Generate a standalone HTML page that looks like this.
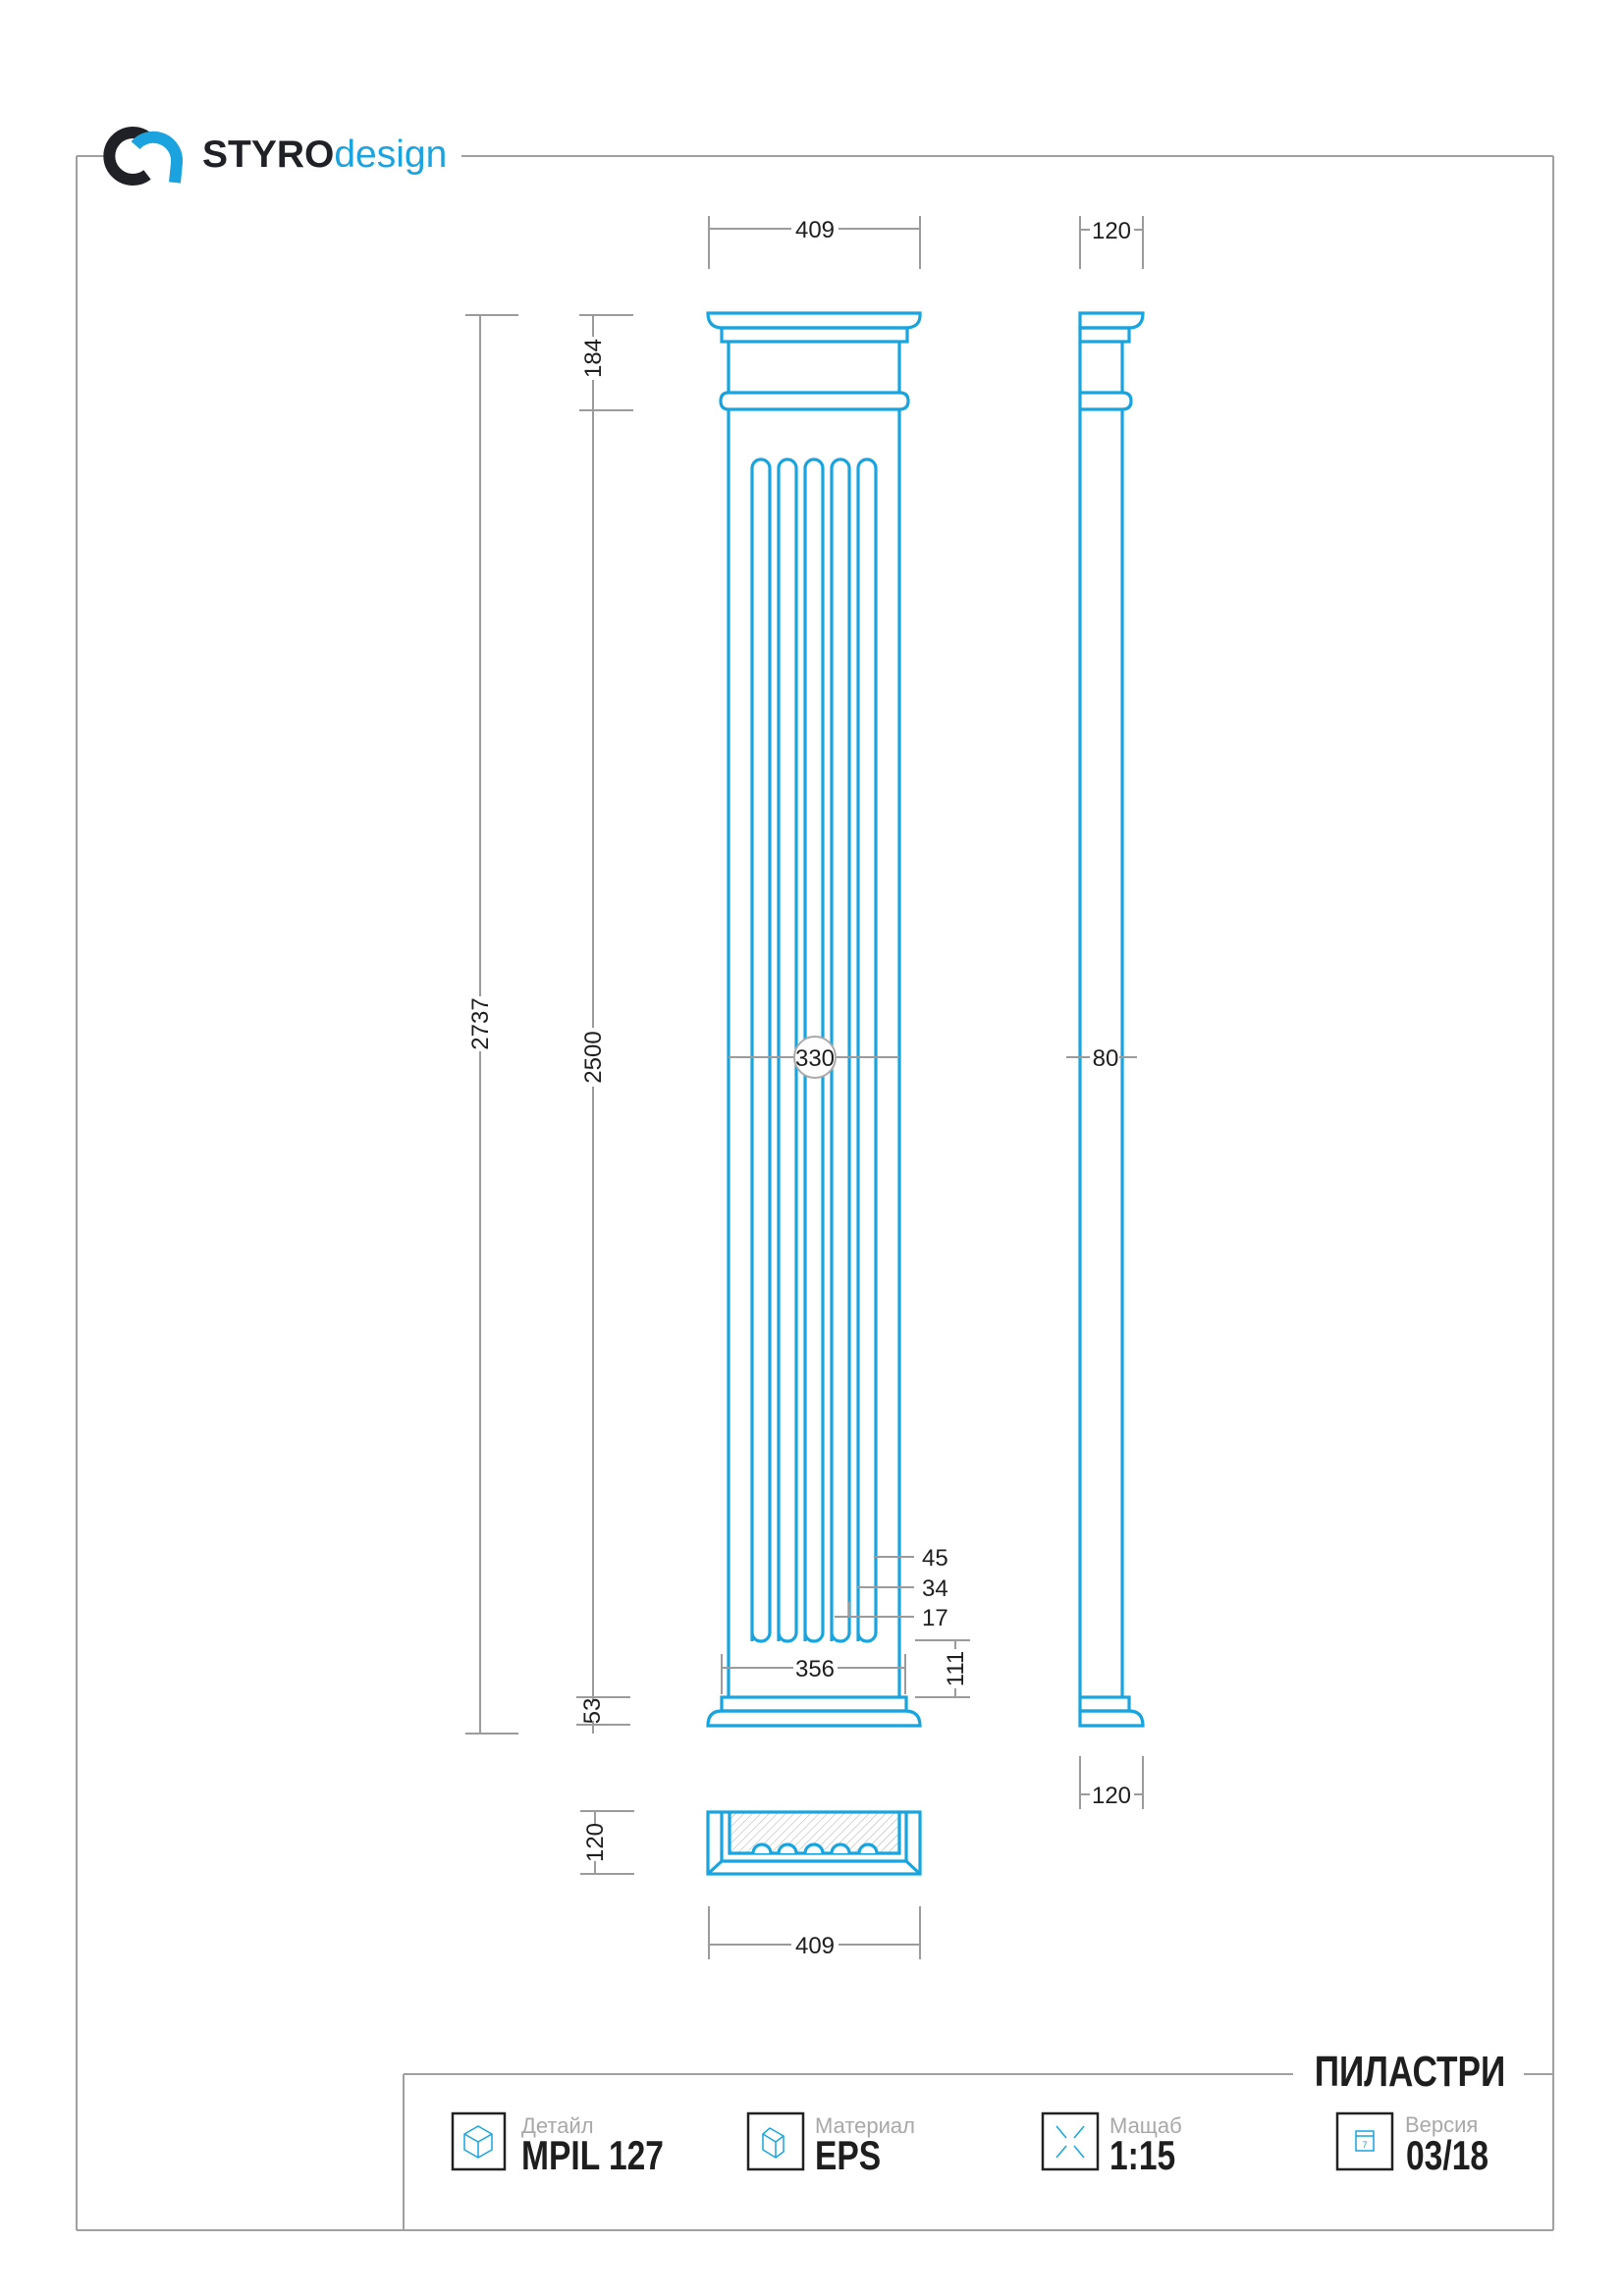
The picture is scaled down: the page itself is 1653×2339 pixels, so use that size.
<!DOCTYPE html>
<html><head><meta charset="utf-8"><style>
html,body{margin:0;padding:0;background:#fff}
svg{display:block}
.b{fill:none;stroke:#18a4df;stroke-width:3.2}
.g{fill:none;stroke:#9b9b9b;stroke-width:2}
.t{font-family:"Liberation Sans",sans-serif;font-size:24px;fill:#1e1e1e}
</style></head><body>
<svg width="1653" height="2339" viewBox="0 0 1653 2339" xmlns="http://www.w3.org/2000/svg">
<!-- frame -->
<g stroke="#a0a0a0" stroke-width="2" fill="none">
<line x1="78" y1="159" x2="106" y2="159"/>
<line x1="470" y1="159" x2="1582" y2="159"/>
<line x1="78" y1="159" x2="78" y2="2272"/>
<line x1="1582" y1="159" x2="1582" y2="2272"/>
<line x1="78" y1="2272" x2="1582" y2="2272"/>
<line x1="411" y1="2113" x2="1317" y2="2113"/>
<line x1="1552" y1="2113" x2="1582" y2="2113"/>
<line x1="411" y1="2113" x2="411" y2="2272"/>
</g>
<!-- logo -->
<path d="M150 140 A24 24 0 1 0 150 178" fill="none" stroke="#1f2126" stroke-width="12"/>
<path d="M138 148 A24 24 0 0 1 180 166 L178 186" fill="none" stroke="#1aa3de" stroke-width="12"/>
<text x="206" y="170" font-family="Liberation Sans,sans-serif" font-size="39" font-weight="bold" fill="#1f2126">STYRO<tspan font-weight="normal" fill="#1aa3de">design</tspan></text>

<!-- top dims -->
<g class="g">
<line x1="722" y1="220" x2="722" y2="274"/><line x1="937" y1="220" x2="937" y2="274"/>
<line x1="722" y1="233" x2="806" y2="233"/><line x1="854" y1="233" x2="937" y2="233"/>
<line x1="1100" y1="220" x2="1100" y2="274"/><line x1="1164" y1="220" x2="1164" y2="274"/>
<line x1="1100" y1="234" x2="1110" y2="234"/><line x1="1155" y1="234" x2="1164" y2="234"/>
</g>
<text class="t" x="830" y="242" text-anchor="middle">409</text>
<text class="t" x="1132" y="243" text-anchor="middle">120</text>

<!-- front elevation -->
<g class="b">
<path d="M721 319 L937 319 Q938 334 922 334 L736 334 Q721 334 721 319 Z"/>
<rect x="735" y="334" width="189" height="14"/>
<line x1="742" y1="348" x2="742" y2="400"/><line x1="916" y1="348" x2="916" y2="400"/>
<path d="M742 400 L916 400 Q925 400 925 408.5 Q925 417 916 417 L742 417 Q734 417 734 408.5 Q734 400 742 400 Z"/>
<line x1="742" y1="417" x2="742" y2="1729"/><line x1="916" y1="417" x2="916" y2="1729"/>
<rect x="735" y="1729" width="188" height="14"/>
<path d="M735 1743 L922 1743 Q937 1743 937 1758 L721 1758 Q721 1743 735 1743 Z"/>
<path d="M766 1672 L766 477 A9 9 0 0 1 784 477 L784 1663 A9 9 0 0 1 766 1663"/>
<path d="M793 1672 L793 477 A9 9 0 0 1 811 477 L811 1663 A9 9 0 0 1 793 1663"/>
<path d="M820 1672 L820 477 A9 9 0 0 1 838 477 L838 1663 A9 9 0 0 1 820 1663"/>
<path d="M847 1672 L847 477 A9 9 0 0 1 865 477 L865 1663 A9 9 0 0 1 847 1663"/>
<path d="M874 1672 L874 477 A9 9 0 0 1 892 477 L892 1663 A9 9 0 0 1 874 1663"/>
</g>
<!-- side elevation -->
<g class="b">
<path d="M1100 319 L1164 319 Q1164 334 1150 334 L1100 334 Z"/>
<rect x="1100" y="334" width="50" height="14"/>
<line x1="1100" y1="348" x2="1100" y2="1729"/><line x1="1143" y1="348" x2="1143" y2="400"/>
<path d="M1100 400 L1143 400 Q1152 400 1152 408.5 Q1152 417 1143 417 L1100 417"/>
<line x1="1143" y1="417" x2="1143" y2="1729"/>
<rect x="1100" y="1729" width="50" height="14"/>
<path d="M1100 1743 L1150 1743 Q1164 1743 1164 1758 L1100 1758 Z"/>
</g>
<!-- plan -->
<defs><pattern id="h" width="6" height="6" patternUnits="userSpaceOnUse" patternTransform="rotate(45)"><line x1="0" y1="0" x2="0" y2="6" stroke="#aaa" stroke-width="1"/></pattern></defs>
<rect x="743" y="1846" width="173" height="42" fill="url(#h)"/>
<g class="b">
<rect x="721" y="1846" width="216" height="63"/>
<path d="M735 1846 L735 1896 L923 1896 L923 1846"/>
<path d="M743 1846 L743 1888 L916 1888 L916 1846"/>
<line x1="721" y1="1909" x2="735" y2="1896"/><line x1="937" y1="1909" x2="923" y2="1896"/>
<path d="M767 1888 A9 9 0 0 1 785 1888 M793 1888 A9 9 0 0 1 811 1888 M820 1888 A9 9 0 0 1 838 1888 M847 1888 A9 9 0 0 1 865 1888 M875 1888 A9 9 0 0 1 893 1888" fill="#fff"/>
</g>

<!-- dims -->
<g class="g">
<line x1="489" y1="321" x2="489" y2="1766"/>
<line x1="474" y1="321" x2="528" y2="321"/><line x1="474" y1="1766" x2="528" y2="1766"/>
<line x1="604" y1="321" x2="604" y2="1766"/>
<line x1="590" y1="321" x2="645" y2="321"/><line x1="590" y1="418" x2="645" y2="418"/>
<line x1="587" y1="1729" x2="642" y2="1729"/><line x1="587" y1="1757" x2="642" y2="1757"/>
<line x1="606" y1="1845" x2="606" y2="1909"/>
<line x1="591" y1="1845" x2="646" y2="1845"/><line x1="591" y1="1909" x2="646" y2="1909"/>
<line x1="742" y1="1077" x2="916" y2="1077"/>
<line x1="1086" y1="1077" x2="1110" y2="1077"/><line x1="1140" y1="1077" x2="1158" y2="1077"/>
<line x1="735" y1="1685" x2="735" y2="1726"/><line x1="922" y1="1685" x2="922" y2="1726"/>
<line x1="735" y1="1699" x2="808" y2="1699"/><line x1="853" y1="1699" x2="922" y2="1699"/>
<line x1="932" y1="1671" x2="988" y2="1671"/><line x1="932" y1="1729" x2="988" y2="1729"/>
<line x1="973" y1="1671" x2="973" y2="1729"/>
<line x1="890" y1="1586" x2="931" y2="1586"/>
<line x1="873" y1="1617" x2="931" y2="1617"/>
<line x1="850" y1="1647" x2="931" y2="1647"/>
<line x1="865" y1="1632" x2="865" y2="1647"/>
<line x1="1100" y1="1789" x2="1100" y2="1843"/><line x1="1164" y1="1789" x2="1164" y2="1843"/>
<line x1="1100" y1="1828" x2="1110" y2="1828"/><line x1="1155" y1="1828" x2="1164" y2="1828"/>
<line x1="722" y1="1942" x2="722" y2="1996"/><line x1="937" y1="1942" x2="937" y2="1996"/>
<line x1="722" y1="1981" x2="806" y2="1981"/><line x1="854" y1="1981" x2="937" y2="1981"/>
</g>
<rect x="476" y="1015" width="26" height="56" fill="#fff"/>
<text class="t" transform="translate(497 1043) rotate(-90)" text-anchor="middle">2737</text>
<rect x="591" y="1047" width="26" height="60" fill="#fff"/>
<text class="t" transform="translate(612 1077) rotate(-90)" text-anchor="middle">2500</text>
<rect x="591" y="343" width="26" height="44" fill="#fff"/>
<text class="t" transform="translate(612 365) rotate(-90)" text-anchor="middle">184</text>
<rect x="591" y="1733" width="24" height="20" fill="#fff"/>
<text class="t" transform="translate(611 1743) rotate(-90)" text-anchor="middle">53</text>
<rect x="593" y="1858" width="26" height="38" fill="#fff"/>
<text class="t" transform="translate(614 1877) rotate(-90)" text-anchor="middle">120</text>
<rect x="960" y="1680" width="26" height="40" fill="#fff"/>
<text class="t" transform="translate(981 1700) rotate(-90)" text-anchor="middle">111</text>
<circle cx="830" cy="1077" r="21" fill="#fff" stroke="#aaa" stroke-width="2"/>
<text class="t" x="830" y="1086" text-anchor="middle">330</text>
<text class="t" x="1126" y="1086" text-anchor="middle">80</text>
<text class="t" x="830" y="1708" text-anchor="middle">356</text>
<text class="t" x="939" y="1595">45</text>
<text class="t" x="939" y="1626">34</text>
<text class="t" x="939" y="1656">17</text>
<text class="t" x="1132" y="1837" text-anchor="middle">120</text>
<text class="t" x="830" y="1990" text-anchor="middle">409</text>

<!-- title block -->
<text x="1436" y="2125" text-anchor="middle" font-family="Liberation Sans,sans-serif" font-size="44" font-weight="bold" fill="#1e1e1e" transform="translate(1436 0) scale(0.8 1) translate(-1436 0)">ПИЛАСТРИ</text>
<g fill="none" stroke="#222" stroke-width="2.5">
<rect x="461" y="2153" width="53" height="57"/>
<rect x="762" y="2153" width="56" height="57"/>
<rect x="1062" y="2153" width="56" height="57"/>
<rect x="1362" y="2153" width="56" height="57"/>
</g>
<g fill="none" stroke="#18a4df" stroke-width="1.5">
<path d="M487 2166 L501 2174 L501 2190 L487 2198 L473 2190 L473 2174 Z M473 2174 L487 2182 L501 2174 M487 2182 L487 2198"/>
<path d="M784 2168 L798 2176 L798 2192 L790 2198 L777 2190 L777 2174 Z M777 2174 L790 2182 L798 2176 M790 2182 L790 2198"/>
<path d="M1076 2166 L1086 2178 M1104 2166 L1094 2178 M1076 2198 L1086 2186 M1104 2198 L1094 2186"/>
<rect x="1381" y="2171" width="18" height="20"/><line x1="1381" y1="2176" x2="1399" y2="2176"/>
</g>
<text x="1390" y="2188" font-family="Liberation Sans,sans-serif" font-size="9" fill="#18a4df" text-anchor="middle">7</text>
<g font-family="Liberation Sans,sans-serif" font-size="22" fill="#a8a8a8">
<text x="531" y="2173">Детайл</text>
<text x="830" y="2173">Материал</text>
<text x="1130" y="2173">Мащаб</text>
<text x="1431" y="2172">Версия</text>
</g>
<g font-family="Liberation Sans,sans-serif" font-size="42" font-weight="bold" fill="#1e1e1e">
<text transform="translate(531 2210) scale(0.8 1)">MPIL 127</text>
<text transform="translate(830 2210) scale(0.8 1)">EPS</text>
<text transform="translate(1130 2210) scale(0.8 1)">1:15</text>
<text transform="translate(1432 2210) scale(0.8 1)">03/18</text>
</g>
</svg>
</body></html>
